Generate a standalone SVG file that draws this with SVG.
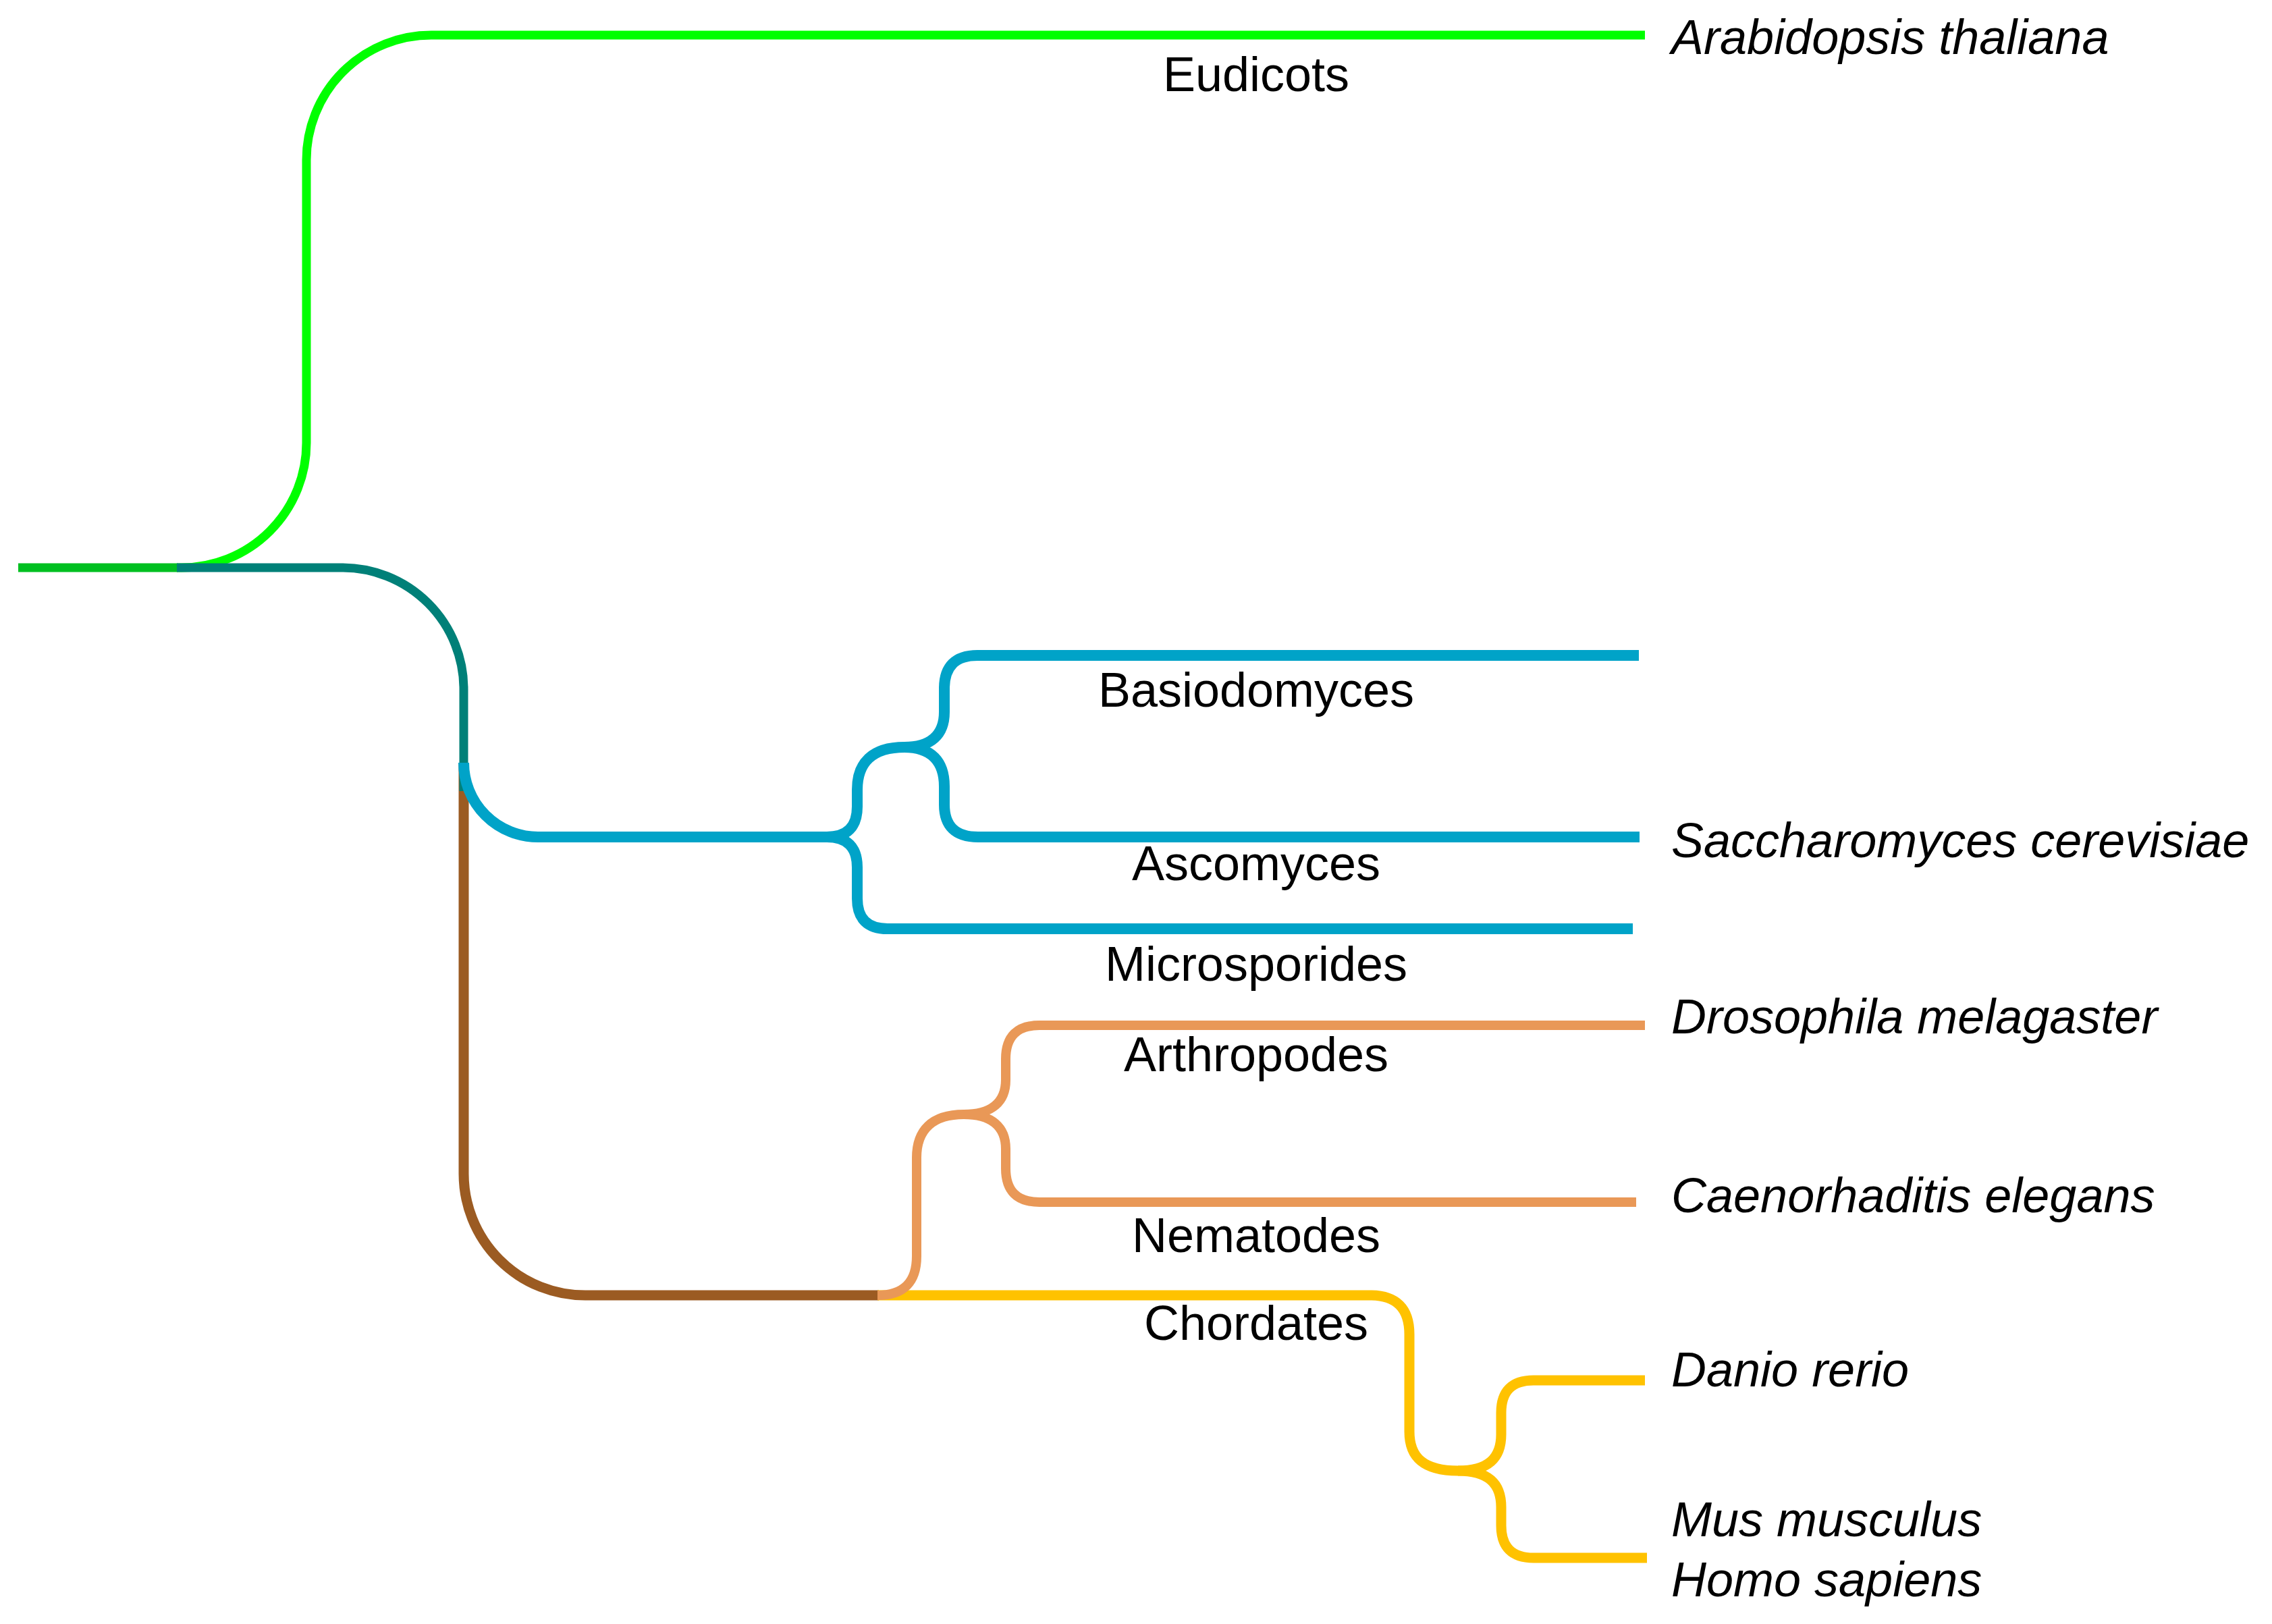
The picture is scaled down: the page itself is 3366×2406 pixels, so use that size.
<svg xmlns="http://www.w3.org/2000/svg" width="3366" height="2406" viewBox="0 0 3366 2406">
<style>
.e{fill:none;stroke-linecap:butt;stroke-linejoin:round}
.g{stroke:#00FF00;stroke-width:13}
.r{stroke:#00C020;stroke-width:13}
.t{stroke:#008078;stroke-width:13}
.b{stroke:#00A3C8;stroke-width:16}
.w{stroke:#9B5B22;stroke-width:15}
.o{stroke:#E99857;stroke-width:14}
.y{stroke:#FFC200;stroke-width:15}
text{font-family:"Liberation Sans",Arial,sans-serif;font-size:72px;fill:#000}
.c{text-anchor:middle}
.s{font-style:italic}
</style>
<rect width="3366" height="2406" fill="#fff"/>
<g id="connectors">
<path class="e w" d="M687 1130 L687 1739 A180 180 0 0 0 867 1919 L1302 1919"/>
<path class="e r" d="M27 841 L263 841"/>
<path class="e g" d="M262 841 L269 841 A185 185 0 0 0 454 656 L454 237 A185 185 0 0 1 639 52 L2437 52"/>
<path class="e t" d="M262 841 L507 841 A180 180 0 0 1 687 1021 L687 1172"/>
<path class="e b" d="M687 1130 A110 110 0 0 0 797 1240 L1225 1240"/>
<path class="e b" d="M1225 1240 Q1270 1240 1270 1195 L1270 1170 C1270 1130 1292 1107 1340 1107"/>
<path class="e b" d="M1340 1107 C1380 1107 1399 1088 1399 1055 L1399 1020 Q1399 971 1448 971 L2428 971"/>
<path class="e b" d="M1340 1107 C1380 1107 1399 1128 1399 1165 L1399 1192 Q1399 1240 1449 1240 L2429 1240"/>
<path class="e b" d="M1225 1240 Q1270 1240 1270 1285 L1270 1331 Q1270 1376 1315 1376 L2419 1376"/>
<path class="e y" d="M1300 1919 L2030 1919 Q2088 1919 2088 1977 L2088 2121 C2088 2160 2110 2179 2160 2179"/>
<path class="e y" d="M2160 2179 C2205 2179 2224 2160 2224 2125 L2224 2093 Q2224 2045 2272 2045 L2437 2045"/>
<path class="e y" d="M2160 2179 C2205 2179 2224 2198 2224 2233 L2224 2260 Q2224 2308 2272 2308 L2440 2308"/>
<path class="e o" d="M1300 1919 Q1358 1919 1358 1861 L1358 1715 C1358 1675 1380 1651 1428 1651"/>
<path class="e o" d="M1428 1651 C1470 1651 1490 1632 1490 1600 L1490 1569 Q1490 1519 1540 1519 L2437 1519"/>
<path class="e o" d="M1428 1651 C1470 1651 1490 1670 1490 1702 L1490 1731 Q1490 1781 1540 1781 L2424 1781"/>
</g>
<g id="clade-labels">
<g id="eudicots"><text class="c" x="1861" y="135">Eudicots</text></g>
<g id="basiodomyces"><text class="c" x="1861" y="1047">Basiodomyces</text></g>
<g id="ascomyces"><text class="c" x="1861" y="1304">Ascomyces</text></g>
<g id="microsporides"><text class="c" x="1861" y="1453">Microsporides</text></g>
<g id="arthropodes"><text class="c" x="1861" y="1587">Arthropodes</text></g>
<g id="nematodes"><text class="c" x="1861" y="1855">Nematodes</text></g>
<g id="chordates"><text class="c" x="1861" y="1985">Chordates</text></g>
</g>
<g id="species">
<g id="arabidopsis"><text class="s" x="2476" y="80">Arabidopsis thaliana</text></g>
<g id="saccharomyces"><text class="s" x="2476" y="1270">Saccharomyces cerevisiae</text></g>
<g id="drosophila"><text class="s" x="2476" y="1531">Drosophila melagaster</text></g>
<g id="caenorhaditis"><text class="s" x="2476" y="1796">Caenorhaditis elegans</text></g>
<g id="danio"><text class="s" x="2476" y="2054">Danio rerio</text></g>
<g id="mus"><text class="s" x="2476" y="2276">Mus musculus</text></g>
<g id="homo"><text class="s" x="2476" y="2365">Homo sapiens</text></g>
</g>
</svg>
